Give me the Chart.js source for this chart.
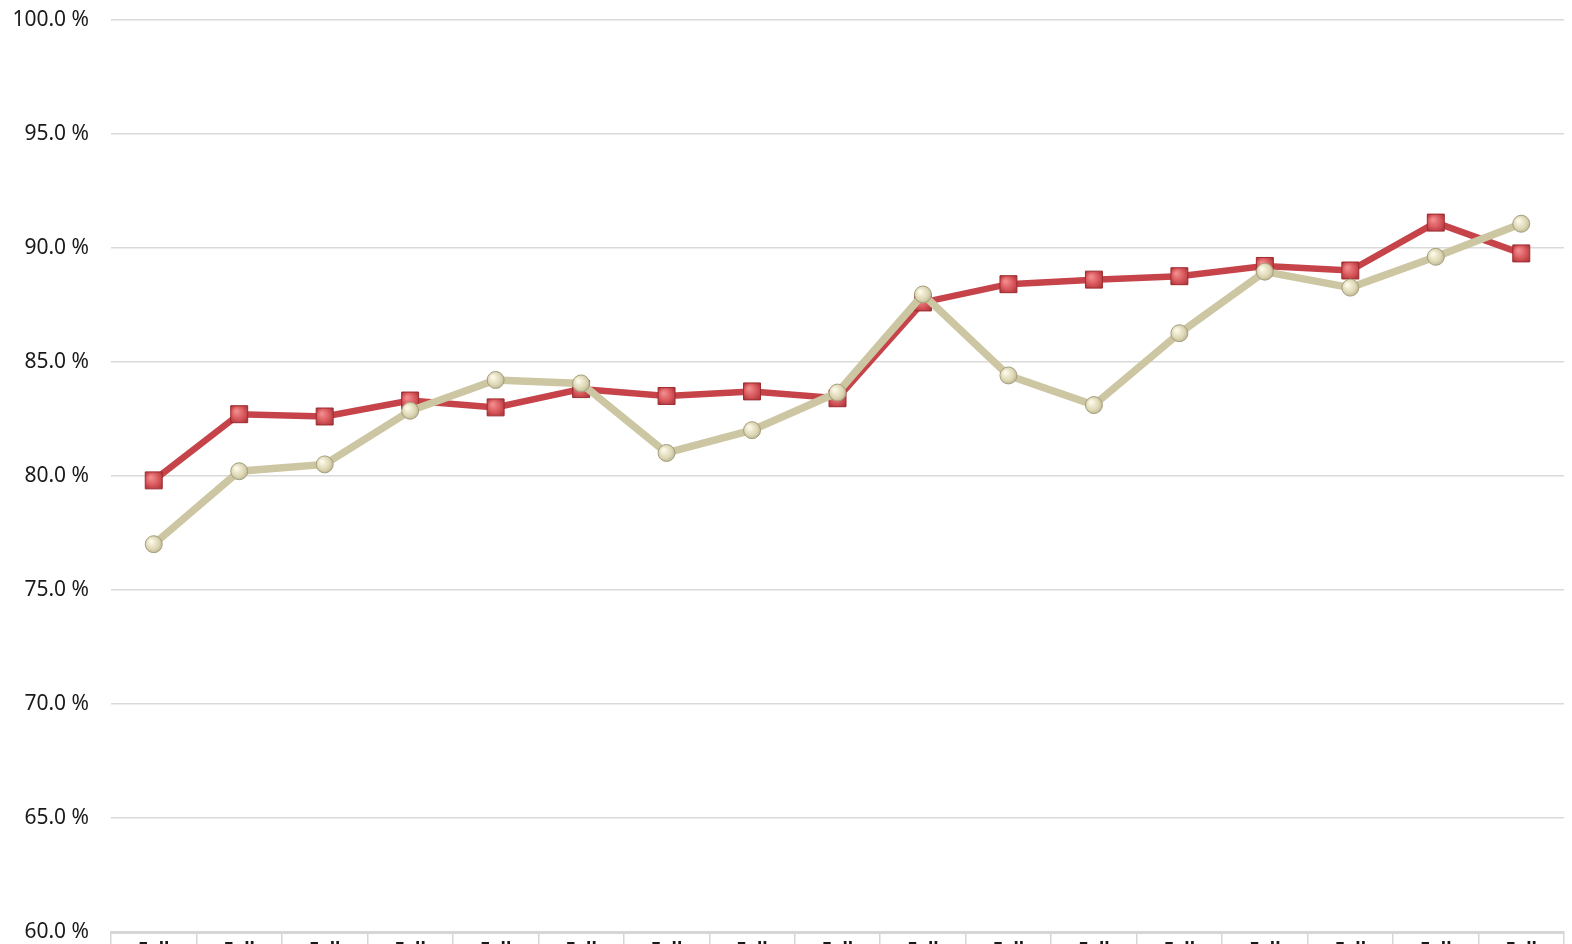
<!DOCTYPE html>
<html>
<head>
<meta charset="utf-8">
<script src="https://cdn.jsdelivr.net/npm/chart.js@4/dist/chart.umd.min.js"></script>
<style>
  html, body { margin: 0; padding: 0; background: #ffffff; overflow: hidden; }
  #wrap { width: 1572px; height: 944px; overflow: hidden; }
  canvas { display: block; margin-top: -15px; }
</style>
</head>
<body>
<div id="wrap"><canvas id="c" width="1577" height="1015"></canvas></div>
<script>
const categories = [
  ["Fall", "2000"], ["Fall", "2001"], ["Fall", "2002"], ["Fall", "2003"], ["Fall", "2004"],
  ["Fall", "2005"], ["Fall", "2006"], ["Fall", "2007"], ["Fall", "2008"], ["Fall", "2009"],
  ["Fall", "2010"], ["Fall", "2011"], ["Fall", "2012"], ["Fall", "2013"], ["Fall", "2014"],
  ["Fall", "2015"], ["Fall", "2016"]
];
const redSeries = [79.8, 82.7, 82.6, 83.3, 83.0, 83.8, 83.5, 83.7, 83.4, 87.6, 88.4, 88.6, 88.75, 89.2, 89.0, 91.1, 89.75];
const beigeSeries = [77.0, 80.2, 80.5, 82.85, 84.2, 84.05, 81.0, 82.0, 83.65, 87.95, 84.4, 83.1, 86.25, 88.95, 88.25, 89.6, 91.05];
const yTicks = [60, 65, 70, 75, 80, 85, 90, 95, 100];

function radialFill(light, mid, dark) {
  return function(ctx) {
    if (ctx.type !== 'data' || !ctx.element) return mid;
    const el = ctx.element;
    const c = ctx.chart.ctx;
    const x = el.x, y = el.y;
    if (!isFinite(x) || !isFinite(y)) return mid;
    const g = c.createRadialGradient(x - 3, y - 3, 1, x, y, 11);
    g.addColorStop(0, light);
    g.addColorStop(0.55, mid);
    g.addColorStop(1, dark);
    return g;
  };
}

const chart = new Chart(document.getElementById('c'), {
  type: 'line',
  data: {
    labels: categories,
    datasets: [
      {
        label: 'Series B',
        data: beigeSeries,
        order: 1,
        borderColor: '#cdc6a3',
        borderWidth: 7.5,
        pointStyle: 'circle',
        pointRadius: 8.5,
        pointHoverRadius: 8.5,
        pointBorderWidth: 1,
        pointBorderColor: '#a59f7e',
        pointBackgroundColor: radialFill('#fbf8e6', '#ddd7b5', '#a9a27f'),
        tension: 0
      },
      {
        label: 'Series A',
        data: redSeries,
        order: 2,
        borderColor: '#c6434a',
        borderWidth: 6.5,
        pointStyle: 'rect',
        pointRadius: 12,
        pointHoverRadius: 12,
        pointBorderWidth: 1,
        pointBorderColor: '#9e2b30',
        pointBackgroundColor: radialFill('#f08a8c', '#d8575b', '#a9353a'),
        tension: 0
      }
    ]
  },
  options: {
    responsive: false,
    animation: false,
    events: [],
    layout: { padding: { top: 3, right: 2, left: 0, bottom: 0 } },
    plugins: { legend: { display: false }, tooltip: { enabled: false } },
    scales: {
      y: {
        min: 60,
        max: 100,
        afterBuildTicks: (scale) => { scale.ticks = yTicks.map(v => ({ value: v })); },
        afterFit: (scale) => { scale.width = 111; },
        ticks: {
          color: '#1a1a1a',
          font: { family: 'Noto Sans', size: 21 },
          padding: 22,
          callback: (v) => Number(v).toFixed(1) + ' %'
        },
        grid: { color: '#dadada', lineWidth: 1.5, drawTicks: false },
        border: { display: false }
      },
      x: {
        offset: true,
        afterFit: (scale) => { scale.height = 68; },
        grid: {
          offset: true,
          drawOnChartArea: false,
          drawTicks: true,
          tickLength: 40,
          color: '#d6d6d6',
          lineWidth: 1.5
        },
        border: { display: true, color: '#d6d6d6', width: 3 },
        ticks: {
          color: '#1a1a1a',
          font: { family: 'Noto Sans', size: 18, weight: 'bold' },
          padding: -33,
          maxRotation: 0,
          autoSkip: false
        }
      }
    }
  }
});
</script>
</body>
</html>
